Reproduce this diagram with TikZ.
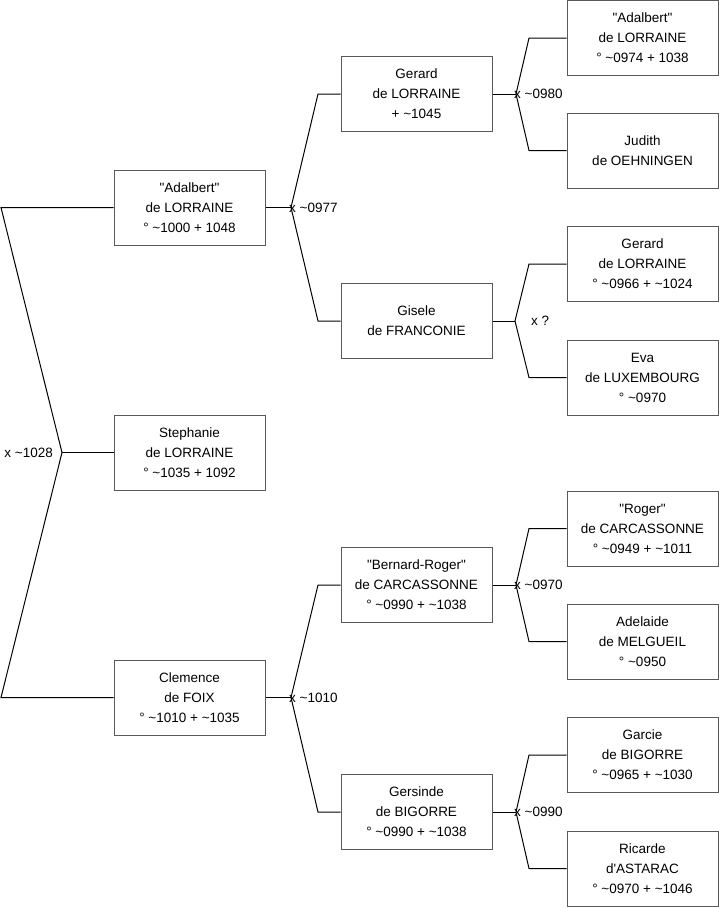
\documentclass[tikz,border=0pt]{standalone}
\usepackage{fontspec}
\setmainfont{Liberation Sans}[Ligatures=TeXOff]
\begin{document}
\begin{tikzpicture}[x=1pt,y=-1pt,
  person/.style={draw=black!65, line width=1pt, minimum width=151pt, minimum height=75pt,
    align=center, inner sep=0pt, font=\fontsize{13.5}{20}\selectfont},
  link/.style={line width=1pt, black},
  lab/.style={font=\fontsize{13.5}{16}\selectfont, inner sep=0pt, anchor=west}]
\useasboundingbox (0,0) rectangle (719,908);

% level 1
\node[person] (a1) at (189.5,207.5) {"Adalbert"\\de LORRAINE\\° \textasciitilde1000 + 1048};
\node[person] (s1) at (189.5,452.5) {Stephanie\\de LORRAINE\\° \textasciitilde1035 + 1092};
\node[person] (c1) at (189.5,697.5) {Clemence\\de FOIX\\° \textasciitilde1010 + \textasciitilde1035};

% level 2
\node[person] (g2) at (416.5,94) {Gerard\\de LORRAINE\\+ \textasciitilde1045};
\node[person] (gi2) at (416.5,321) {Gisele\\de FRANCONIE};
\node[person] (b2) at (416.5,585) {"Bernard-Roger"\\de CARCASSONNE\\° \textasciitilde0990 + \textasciitilde1038};
\node[person] (ge2) at (416.5,812) {Gersinde\\de BIGORRE\\° \textasciitilde0990 + \textasciitilde1038};

% level 3
\node[person] (a3) at (642.5,38) {"Adalbert"\\de LORRAINE\\° \textasciitilde0974 + 1038};
\node[person] (ju3) at (642.5,150.5) {Judith\\de OEHNINGEN};
\node[person] (g3) at (642.5,264) {Gerard\\de LORRAINE\\° \textasciitilde0966 + \textasciitilde1024};
\node[person] (e3) at (642.5,377.5) {Eva\\de LUXEMBOURG\\° \textasciitilde0970};
\node[person] (r3) at (642.5,528.5) {"Roger"\\de CARCASSONNE\\° \textasciitilde0949 + \textasciitilde1011};
\node[person] (ad3) at (642.5,641.5) {Adelaide\\de MELGUEIL\\° \textasciitilde0950};
\node[person] (ga3) at (642.5,755) {Garcie\\de BIGORRE\\° \textasciitilde0965 + \textasciitilde1030};
\node[person] (ri3) at (642.5,868.5) {Ricarde\\d'ASTARAC\\° \textasciitilde0970 + \textasciitilde1046};

% root union
\coordinate (rt) at (1,207.5);
\coordinate (rj) at (62,452.5);
\coordinate (rb) at (1,697.5);
\draw[link] (a1.west) -- (rt) -- (rj) -- (rb) -- (c1.west);
\draw[link] (rj) -- (s1.west);
\node[lab, anchor=east] (l0) at (53,452.5) {x \textasciitilde1028};

% Adalbert's parents
\coordinate (u1) at (291,207.5);
\coordinate (u1u) at (318,94);
\coordinate (u1d) at (318,321);
\draw[link] (a1.east) -- (u1);
\draw[link] (g2.west) -- (u1u) -- (u1) -- (u1d) -- (gi2.west);
\node[lab] (l1) at (289,207.5) {x \textasciitilde0977};

% Clemence's parents
\coordinate (u2) at (291,697.5);
\coordinate (u2u) at (318,585);
\coordinate (u2d) at (318,812);
\draw[link] (c1.east) -- (u2);
\draw[link] (b2.west) -- (u2u) -- (u2) -- (u2d) -- (ge2.west);
\node[lab] (l2) at (289,697.5) {x \textasciitilde1010};

% Gerard's parents
\coordinate (u3) at (516,94);
\coordinate (u3u) at (529,38);
\coordinate (u3d) at (529,150.5);
\draw[link] (g2.east) -- (u3);
\draw[link] (a3.west) -- (u3u) -- (u3) -- (u3d) -- (ju3.west);
\node[lab] (l3) at (514,94) {x \textasciitilde0980};

% Gisele's parents
\coordinate (u4) at (515,321);
\coordinate (u4u) at (529,264);
\coordinate (u4d) at (529,377.5);
\draw[link] (gi2.east) -- (u4);
\draw[link] (g3.west) -- (u4u) -- (u4) -- (u4d) -- (e3.west);
\node[lab] (l4) at (531,321) {x ?};

% Bernard-Roger's parents
\coordinate (u5) at (516,585);
\coordinate (u5u) at (529,528.5);
\coordinate (u5d) at (529,641.5);
\draw[link] (b2.east) -- (u5);
\draw[link] (r3.west) -- (u5u) -- (u5) -- (u5d) -- (ad3.west);
\node[lab] (l5) at (514,585) {x \textasciitilde0970};

% Gersinde's parents
\coordinate (u6) at (516,812);
\coordinate (u6u) at (529,755);
\coordinate (u6d) at (529,868.5);
\draw[link] (ge2.east) -- (u6);
\draw[link] (ga3.west) -- (u6u) -- (u6) -- (u6d) -- (ri3.west);
\node[lab] (l6) at (514,812) {x \textasciitilde0990};
\end{tikzpicture}
\end{document}
